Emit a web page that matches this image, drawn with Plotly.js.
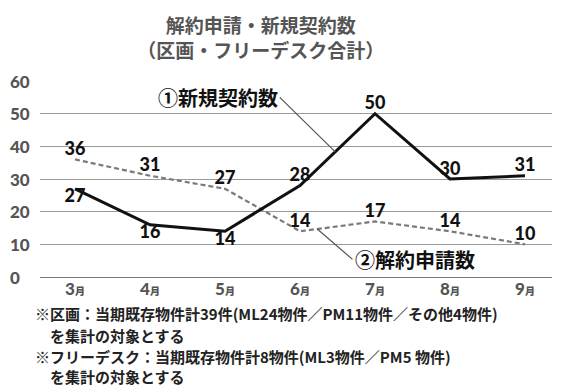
<!DOCTYPE html>
<html><head><meta charset="utf-8">
<script src="https://cdn.plot.ly/plotly-3.0.1.min.js"></script>
<style>html,body{margin:0;padding:0;background:#fff}#chart{width:561px;height:392px}</style>
</head><body><div id="chart"></div>
<script>
const months = ['3','4','5','6','7','8','9'];
const newContracts = [27, 16, 14, 28, 50, 30, 31];
const cancelRequests = [36, 31, 27, 14, 17, 14, 10];
const yTicks = [0, 10, 20, 30, 40, 50, 60];
const titleLines = ['解約申請・新規契約数', '（区画・フリーデスク合計）'];
const seriesNames = ['①新規契約数', '②解約申請数'];
const notes = [
  '※区画：当期既存物件計39件(ML24物件／PM11物件／その他4物件)',
  '　を集計の対象とする',
  '※フリーデスク：当期既存物件計8物件(ML3物件／PM5 物件)',
  '　を集計の対象とする'
];

const NUMF = "Lato, 'Noto Sans CJK JP', sans-serif";
const JPF = "'Noto Sans CJK JP', sans-serif";
const xIdx = months.map((m, i) => i);
const tickText = months.map(m => m + "<span style='font-size:10px'>月</span>");

const traces = [
  {
    x: xIdx, y: cancelRequests, type: 'scatter', mode: 'lines+text',
    line: {color: '#7a7a7a', width: 2.2, dash: '5px,3px'},
    text: cancelRequests.map(String), textposition: 'top center',
    textfont: {family: NUMF, size: 18, color: '#111', weight: 900},
    cliponaxis: false, hoverinfo: 'none', name: seriesNames[1]
  },
  {
    x: xIdx, y: newContracts, type: 'scatter', mode: 'lines+text',
    line: {color: '#111', width: 3},
    text: newContracts.map(String),
    textposition: ['bottom center','bottom center','bottom center','top center','top center','top center','top center'],
    textfont: {family: NUMF, size: 18, color: '#111', weight: 900},
    cliponaxis: false, hoverinfo: 'none', name: seriesNames[0]
  }
];

const annotations = [];
yTicks.forEach(v => annotations.push({
  xref: 'paper', yref: 'y', x: -0.0625, y: v, xanchor: 'left', yanchor: 'middle',
  text: String(v), showarrow: false,
  font: {family: NUMF, size: 17, color: '#555', weight: 900}
}));
annotations.push({
  xref: 'x', yref: 'y', x: 3.47, y: 38.3, axref: 'x', ayref: 'y', ax: 2.73, ay: 55,
  xanchor: 'right', yanchor: 'middle', text: seriesNames[0], showarrow: true,
  arrowhead: 0, arrowwidth: 1.2, arrowcolor: '#555', standoff: 0,
  font: {family: JPF, size: 20, color: '#111', weight: 'bold'}
});
annotations.push({
  xref: 'x', yref: 'y', x: 3.23, y: 14.7, axref: 'x', ayref: 'y', ax: 3.70, ay: 5.4,
  xanchor: 'left', yanchor: 'middle', text: seriesNames[1], showarrow: true,
  arrowhead: 0, arrowwidth: 1.2, arrowcolor: '#555', standoff: 0,
  font: {family: JPF, size: 20, color: '#111', weight: 'bold'}
});
const noteY = [-0.184, -0.296, -0.408, -0.510];
notes.forEach((t, i) => annotations.push({
  xref: 'paper', yref: 'paper', x: -0.014, y: noteY[i], xanchor: 'left', yanchor: 'middle',
  text: t, showarrow: false, align: 'left',
  font: {family: JPF, size: 15, color: '#222', weight: 'bold'}
}));

const layout = {
  width: 561, height: 392,
  margin: {l: 40, r: 9, t: 81, b: 115},
  paper_bgcolor: '#fff', plot_bgcolor: '#fff',
  showlegend: false,
  title: {
    text: titleLines.join('<br>'), x: 0.465, xanchor: 'center', yref: 'container', y: 0.916, yanchor: 'top',
    font: {family: JPF, size: 19, color: '#555', weight: 'bold'}
  },
  xaxis: {
    range: [-0.467, 6.36], tickvals: xIdx, ticktext: tickText,
    showgrid: false, zeroline: false, showline: false, ticks: '',
    tickfont: {family: NUMF, size: 17, color: '#555', weight: 900},
    fixedrange: true
  },
  yaxis: {
    range: [0, 60], tickvals: yTicks, showticklabels: false,
    showgrid: true, gridcolor: '#9a9a9a', gridwidth: 1,
    zeroline: true, zerolinecolor: '#777', zerolinewidth: 1,
    showline: false, ticks: '', fixedrange: true
  },
  annotations: annotations
};

Plotly.newPlot('chart', traces, layout, {displayModeBar: false, staticPlot: true});
</script>
</body></html>
